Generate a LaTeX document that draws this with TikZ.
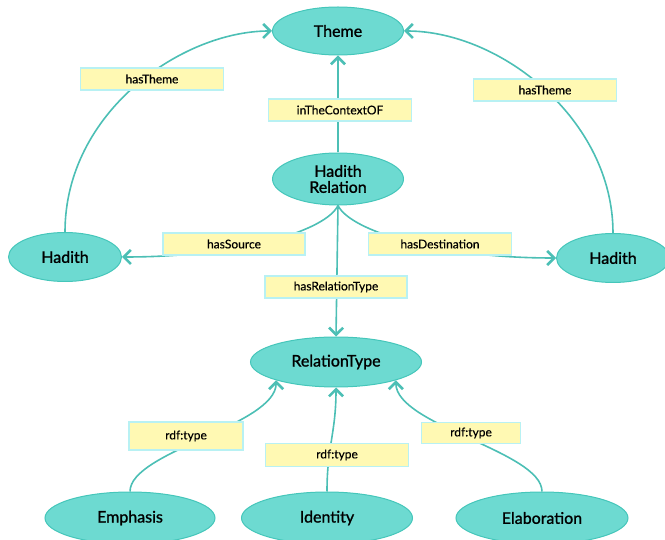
\documentclass[tikz,border=0pt]{standalone}
\usepackage{fontspec}
\setmainfont{Lato}
\newfontfamily\medfont{Lato}[UprightFeatures={FakeBold=1.2}]
\newfontfamily\labfont{Lato}[UprightFeatures={FakeBold=0.5}]
\usetikzlibrary{shapes.geometric,arrows.meta}
\definecolor{tealfill}{HTML}{6DDAD1}
\definecolor{tealedge}{HTML}{45C6BA}
\definecolor{conncol}{HTML}{4CBFB5}
\definecolor{labfill}{HTML}{FFF9B3}
\definecolor{labedge}{HTML}{B8F1F3}
\tikzset{
  cls/.style={ellipse, fill=tealfill, draw=tealedge, line width=1pt, inner sep=0pt,
    font=\medfont\fontsize{16}{18}\selectfont, align=center},
  lab/.style={rectangle, fill=labfill, draw=labedge, line width=1.2pt, inner sep=0pt,
    minimum height=22pt, font=\labfont\fontsize{12}{14}\selectfont},
  conn/.style={draw=conncol, line width=1.6pt},
  arr/.style={conn, -{Straight Barb[length=7pt,width=14pt,line width=2.6pt]}}
}
\begin{document}
\begin{tikzpicture}[x=1pt,y=-1pt]
\useasboundingbox (0,0) rectangle (665,540);
% classes
\node[cls, minimum width=131pt, minimum height=48pt] (theme) at (338,31) {Theme};
\node[cls, minimum width=131pt, minimum height=52pt] (hr) at (338,179) {Hadith\\[-2pt]Relation};
\node[cls, minimum width=113pt, minimum height=49pt] (hadL) at (65,257) {Hadith};
\node[cls, minimum width=113pt, minimum height=49pt] (hadR) at (613,258) {Hadith};
\node[cls, minimum width=171pt, minimum height=50pt] (rt) at (336,362) {RelationType};
\node[cls, minimum width=170pt, minimum height=52pt] (emph) at (130,518) {Emphasis};
\node[cls, minimum width=171pt, minimum height=52pt] (ident) at (327,518) {Identity};
\node[cls, minimum width=172pt, minimum height=52pt] (elab) at (542,518) {Elaboration};
% connectors
\draw[arr] (hadL.north) .. controls +(0,-120) and +(-90,0) .. (theme.west);
\draw[arr] (hadR.north) .. controls +(0,-113) and +(97,0) .. (theme.east);
\draw[arr] (hr.north) -- (theme.south);
\draw[arr] (hr.south) .. controls +(-12,25) and +(120,0) .. (hadL.east);
\draw[arr] (hr.south) .. controls +(12,25) and +(-120,0) .. (hadR.west);
\draw[arr] (hr.south) -- (rt.north);
\draw[arr] (emph.north) .. controls +(0,-40) and +(0,45) .. (rt.197);
\draw[arr] (ident.north) .. controls +(0,-45) and +(0,45) .. (rt.south);
\draw[arr] (elab.north) .. controls +(0,-40) and +(0,45) .. (rt.343);
% labels
\node[lab, minimum width=143pt] (l1) at (152,79) {hasTheme};
\node[lab, minimum width=143pt] (l2) at (545,90) {hasTheme};
\node[lab, minimum width=143pt] (l3) at (340,110) {inTheContextOF};
\node[lab, minimum width=142pt] (l4) at (234,244) {hasSource};
\node[lab, minimum width=143pt] (l5) at (440,244) {hasDestination};
\node[lab, minimum width=142pt] (l6) at (336,287) {hasRelationType};
\node[lab, minimum width=114pt, minimum height=28pt] (l7) at (186,436) {rdf:type};
\node[lab, minimum width=143pt, minimum height=23pt] (l8) at (337,455) {rdf:type};
\node[lab, minimum width=99pt, minimum height=21pt] (l9) at (471,433) {rdf:type};
\end{tikzpicture}
\end{document}
